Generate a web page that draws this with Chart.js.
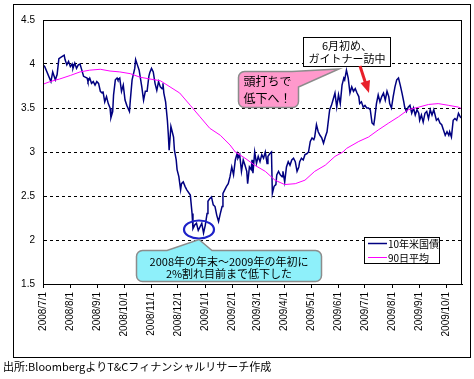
<!DOCTYPE html>
<html><head><meta charset="utf-8">
<script src="https://cdn.jsdelivr.net/npm/chart.js@4"></script>
<style>html,body{margin:0;padding:0;background:#fff;}canvas{display:block;}</style>
</head><body>
<canvas id="c" width="474" height="379"></canvas>
<script>
// ---- data ----
const startDate = [2008, 7, 1];
const tickLabels = ['2008/7/1','2008/8/1','2008/9/1','2008/10/1','2008/11/1','2008/12/1','2009/1/1','2009/2/1','2009/3/1','2009/4/1','2009/5/1','2009/6/1','2009/7/1','2009/8/1','2009/9/1','2009/10/1'];
const seriesNames = ['10年米国債', '90日平均'];
const lastDay = 475;
// days since 2008/7/1
const yieldDays = [0,2,9,11,14,16,18,21,24,25,27,29,31,33,34,36,38,40,42,44,46,50,51,53,55,57,59,61,63,65,67,68,70,72,74,76,77,79,80,82,84,85,87,89,91,93,95,98,99,101,104,105,107,109,112,114,116,118,120,121,123,125,127,129,131,133,135,136,137,139,141,142,143,145,146,148,149,151,152,154,156,157,159,161,163,167,169,170,172,174,176,178,180,182,184,186,187,189,191,193,195,197,199,201,203,204,206,208,210,212,214,216,218,220,221,223,225,227,229,231,232,234,236,237,238,240,242,244,246,248,250,252,254,255,257,259,260,262,264,265,267,269,271,272,274,276,278,280,282,284,286,288,290,291,293,295,297,299,301,303,305,307,308,310,312,314,316,318,320,322,324,325,327,329,331,333,335,337,339,341,342,344,346,348,350,352,354,356,358,359,361,363,365,367,369,371,373,375,376,378,380,382,384,386,388,390,392,393,395,397,399,401,403,405,407,409,410,412,414,416,418,420,422,424,426,427,429,431,433,435,437,439,441,443,444,446,448,450,452,454,456,458,460,461,463,465,467,469,471,473,475];
const yieldValues = [3.99,3.97,3.80,3.91,3.82,3.88,4.06,4.08,4.10,4.05,3.99,4.03,3.97,4.00,3.95,4.01,3.95,3.99,4.00,3.93,3.86,3.84,3.80,3.84,3.78,3.80,3.76,3.80,3.78,3.69,3.67,3.69,3.57,3.63,3.55,3.50,3.39,3.46,3.65,3.82,3.84,3.82,3.84,3.69,3.76,3.59,3.53,3.46,3.59,3.82,3.95,4.05,3.99,3.93,3.74,3.59,3.69,3.69,3.86,3.90,3.95,3.91,3.78,3.70,3.80,3.74,3.72,3.78,3.67,3.57,3.36,3.21,3.02,3.29,3.25,3.17,3.02,2.91,2.80,2.72,2.57,2.64,2.66,2.61,2.57,2.51,2.30,2.13,2.17,2.19,2.11,2.15,2.19,2.08,2.17,2.30,2.44,2.47,2.49,2.40,2.38,2.28,2.21,2.30,2.38,2.53,2.57,2.61,2.64,2.72,2.83,2.74,2.91,2.98,2.93,2.97,2.78,2.91,2.85,2.78,2.64,2.83,2.80,2.91,2.76,3.00,2.87,2.95,2.89,2.97,2.93,3.00,2.87,2.95,2.98,3.00,2.53,2.61,2.63,2.74,2.78,2.74,2.72,2.78,2.66,2.83,2.89,2.85,2.91,2.93,2.89,2.78,2.83,2.89,2.93,2.91,2.97,2.98,3.00,3.12,3.16,3.14,3.17,3.31,3.23,3.19,3.16,3.10,3.17,3.23,3.40,3.48,3.53,3.60,3.67,3.51,3.65,3.55,3.76,3.84,3.82,3.93,3.84,3.67,3.74,3.69,3.72,3.67,3.63,3.55,3.57,3.51,3.53,3.50,3.50,3.48,3.33,3.31,3.38,3.55,3.65,3.57,3.63,3.67,3.59,3.69,3.63,3.55,3.50,3.63,3.74,3.82,3.84,3.76,3.67,3.57,3.51,3.46,3.51,3.53,3.44,3.50,3.42,3.48,3.44,3.36,3.42,3.34,3.44,3.46,3.38,3.48,3.42,3.48,3.44,3.36,3.38,3.33,3.31,3.25,3.19,3.23,3.19,3.23,3.17,3.36,3.38,3.36,3.44,3.40,3.38];
const maDays = [0,8,19,31,42,53,65,76,87,99,110,121,133,144,155,167,178,189,201,212,218,229,240,252,263,274,286,297,308,320,331,340,344,358,369,380,392,403,414,426,437,448,460,471,475];
const maValues = [3.77,3.80,3.83,3.87,3.91,3.93,3.94,3.92,3.91,3.89,3.85,3.83,3.81,3.74,3.67,3.53,3.40,3.27,3.19,3.08,3.00,2.93,2.85,2.78,2.68,2.63,2.64,2.68,2.78,2.85,2.95,3.00,3.04,3.12,3.17,3.25,3.33,3.40,3.48,3.51,3.54,3.55,3.53,3.51,3.49];
const yMin = 1.5, yMax = 4.5, yStep = 0.5;

// ---- helpers ----
function dayOffset(label){
  const p = label.split('/').map(Number);
  return Math.round((Date.UTC(p[0],p[1]-1,p[2]) - Date.UTC(startDate[0],startDate[1]-1,startDate[2]))/86400000);
}
const tickDays = tickLabels.map(dayOffset);
const toXY = (xs, ys) => xs.map((x,i)=>({x:x, y:ys[i]}));

const JP = '"Noto Sans CJK JP", sans-serif';
const NAVY = '#000080', MAG = '#FF00FF';

const decor = {
  id:'decor',
  afterDraw(chart){
    const ctx = chart.ctx, a = chart.chartArea;
    ctx.save();
    // plot frame
    ctx.strokeStyle = '#000'; ctx.lineWidth = 1; ctx.setLineDash([]);
    ctx.strokeRect(Math.round(a.left)+0.5, Math.round(a.top)+0.5, Math.round(a.right-a.left)-1, Math.round(a.bottom-a.top));
    // outer frame
    ctx.strokeRect(13.5, 4.5, 457, 353);

    // white note box
    ctx.fillStyle = '#fff'; ctx.fillRect(303, 37, 88, 30);
    ctx.strokeStyle = '#000'; ctx.strokeRect(303.5, 37.5, 87, 29);
    ctx.fillStyle = '#000'; ctx.font = '11px ' + JP; ctx.textAlign = 'center'; ctx.textBaseline = 'middle';
    ctx.fillText('6月初め、', 347, 45.5);
    ctx.fillText('ガイトナー訪中', 347, 58.5);

    // pink callout
    {
      const x=238.5, y=71.5, w=60, h=36, r=6;
      ctx.beginPath();
      ctx.moveTo(x+r, y); ctx.lineTo(292, y); ctx.lineTo(339, 69); ctx.lineTo(x+w, 87);
      ctx.lineTo(x+w, y+h-r); ctx.arcTo(x+w, y+h, x+w-r, y+h, r);
      ctx.lineTo(x+r, y+h); ctx.arcTo(x, y+h, x, y+h-r, r);
      ctx.lineTo(x, y+r); ctx.arcTo(x, y, x+r, y, r);
      ctx.closePath();
      ctx.fillStyle = '#FF99CC'; ctx.fill();
      ctx.strokeStyle = '#8C8C8C'; ctx.lineWidth = 1.5; ctx.stroke();
      ctx.fillStyle = '#000'; ctx.font = '12px ' + JP;
      ctx.fillText('頭打ちで', 267.5, 81.5);
      ctx.fillText('低下へ！', 267.5, 98);
    }

    // red arrow
    ctx.strokeStyle = '#E8202A'; ctx.fillStyle = '#E8202A'; ctx.lineWidth = 3;
    ctx.beginPath(); ctx.moveTo(360, 66); ctx.lineTo(365.5, 83); ctx.stroke();
    ctx.beginPath(); ctx.moveTo(369, 93); ctx.lineTo(360.5, 83); ctx.lineTo(370, 80); ctx.closePath(); ctx.fill();

    // blue ellipse
    ctx.strokeStyle = '#1E22C8'; ctx.lineWidth = 2.2;
    ctx.beginPath(); ctx.ellipse(199, 229.5, 15, 9, 0, 0, Math.PI*2); ctx.stroke();

    // cyan callout
    {
      const x=136.5, y=250.5, w=185, h=31, r=6;
      ctx.beginPath();
      ctx.moveTo(x+r, y); ctx.lineTo(167, y); ctx.lineTo(199, 239.5); ctx.lineTo(212, y);
      ctx.lineTo(x+w-r, y); ctx.arcTo(x+w, y, x+w, y+r, r);
      ctx.lineTo(x+w, y+h-r); ctx.arcTo(x+w, y+h, x+w-r, y+h, r);
      ctx.lineTo(x+r, y+h); ctx.arcTo(x, y+h, x, y+h-r, r);
      ctx.lineTo(x, y+r); ctx.arcTo(x, y, x+r, y, r);
      ctx.closePath();
      ctx.fillStyle = '#8EF0FA'; ctx.fill();
      ctx.strokeStyle = '#8C8C8C'; ctx.lineWidth = 1.5; ctx.stroke();
      ctx.fillStyle = '#000'; ctx.font = '11px ' + JP;
      ctx.fillText('2008年の年末～2009年の年初に', 229, 261.5);
      ctx.fillText('2%割れ目前まで低下した', 229, 274);
    }

    // legend
    ctx.fillStyle = '#fff'; ctx.fillRect(364, 237, 75, 26);
    ctx.strokeStyle = '#000'; ctx.lineWidth = 1; ctx.strokeRect(364.5, 237.5, 75, 26);
    const ds = chart.data.datasets;
    ds.forEach((d, i) => {
      const ly = 243.5 + i*14;
      ctx.strokeStyle = d.borderColor; ctx.lineWidth = i === 0 ? 1.5 : 1;
      ctx.beginPath(); ctx.moveTo(368, ly); ctx.lineTo(387, ly); ctx.stroke();
      ctx.fillStyle = '#000'; ctx.font = '10px ' + JP; ctx.textAlign = 'left'; ctx.textBaseline = 'middle';
      ctx.fillText(d.label, 388, ly + 0.5);
    });

    // footer
    ctx.fillStyle = '#000'; ctx.font = '11px ' + JP; ctx.textAlign = 'left'; ctx.textBaseline = 'middle';
    ctx.fillText('出所:BloombergよりT&Cフィナンシャルリサーチ作成', 3, 367);
    ctx.restore();
  }
};

new Chart(document.getElementById('c'), {
  type: 'line',
  data: {
    datasets: [
      { label: seriesNames[0], data: toXY(yieldDays, yieldValues), borderColor: NAVY, borderWidth: 1.5, pointRadius: 0, tension: 0, order: 1 },
      { label: seriesNames[1], data: toXY(maDays, maValues), borderColor: MAG, borderWidth: 1, pointRadius: 0, tension: 0, order: 0 }
    ]
  },
  options: {
    responsive: false, animation: false, devicePixelRatio: 1,
    layout: { padding: { top: 20, right: 12, left: 0, bottom: 0 } },
    plugins: { legend: { display: false }, tooltip: { enabled: false } },
    scales: {
      x: {
        type: 'linear', min: 0, max: lastDay,
        afterBuildTicks: s => { s.ticks = tickDays.map(v => ({ value: v })); },
        afterFit: s => { s.height = 95; },
        ticks: { autoSkip: false, maxRotation: 90, minRotation: 90, color: '#000', padding: 4,
                 font: { family: 'Liberation Sans', size: 10 },
                 callback: (v, i) => tickLabels[i] },
        grid: { drawOnChartArea: false, drawTicks: true, tickLength: 4, color: '#000' },
        border: { color: '#000', width: 1 }
      },
      y: {
        min: yMin, max: yMax,
        afterFit: s => { s.width = 43; },
        ticks: { stepSize: yStep, color: '#000', padding: 8, font: { family: 'Liberation Sans', size: 10 },
                 callback: v => String(Math.round(v * 10) / 10) },
        grid: { color: '#000', lineWidth: 1, drawTicks: false },
        border: { color: '#000', width: 1, dash: [3, 3] }
      }
    }
  },
  plugins: [decor]
});
</script>
</body></html>
